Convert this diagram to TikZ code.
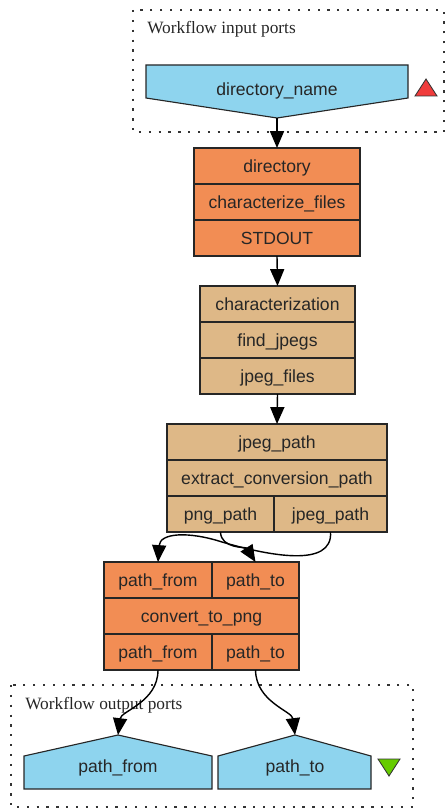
\documentclass[tikz,border=0pt]{standalone}
\usepackage{fontspec}
\setmainfont{Liberation Serif}
\setsansfont{Liberation Sans}
\usetikzlibrary{arrows.meta,positioning}
\definecolor{portblue}{HTML}{8ED4EE}
\definecolor{procorange}{HTML}{F28D54}
\definecolor{proctan}{HTML}{DEB887}
\definecolor{markred}{HTML}{F03C3C}
\definecolor{markgreen}{HTML}{66CC00}

\begin{document}
\begin{tikzpicture}[
    x=0.025cm, y=-0.025cm,
    cell/.style={rectangle, draw=black!85, line width=0.8pt, minimum height=0.9cm, inner sep=0pt, outer sep=0pt, text height=9pt, text depth=0pt, font=\sffamily\fontsize{12.5}{15}\selectfont, text=black!85},
    orangecell/.style={cell, fill=procorange},
    tancell/.style={cell, fill=proctan},
    port/.style={draw=black!85, line width=0.8pt, fill=portblue, line join=miter},
    portlabel/.style={font=\sffamily\fontsize{12.5}{15}\selectfont, text=black!85, inner sep=0pt},
    frame/.style={draw=black!80, line width=1pt, dash pattern=on 1.6pt off 5.4pt},
    framelabel/.style={font=\fontsize{12.3}{15}\selectfont, text=black!85, anchor=west, inner sep=0pt},
    marker/.style={draw=black!80, line width=0.6pt, line join=miter},
    arrow/.style={-{Triangle[length=12pt,width=10pt]}, line width=1pt}
]
\useasboundingbox (0,0) rectangle (445,808);

% Workflow input ports
\draw[frame] (133,10) rectangle (444,132);
\node[framelabel] (in-title) at (147,29) {Workflow input ports};
\draw[port] (146,65) -- (408,65) -- (408,98) -- (277,118) -- (146,98) -- cycle;
\node[portlabel] (in-dirname) at (277,91) {directory\_name};
\coordinate (in-dirname-tip) at (277,118);
\draw[marker, fill=markred] (415,96) -- (437,96) -- (426,79) -- cycle;

% characterize_files
\node[orangecell, minimum width=4.15cm] (c1-in) at (277,166) {directory};
\node[orangecell, minimum width=4.15cm, below=0pt of c1-in] (c1-name) {characterize\_files};
\node[orangecell, minimum width=4.15cm, below=0pt of c1-name] (c1-out) {STDOUT};

% find_jpegs
\node[tancell, minimum width=3.875cm] (c2-in) at (277.5,304) {characterization};
\node[tancell, minimum width=3.875cm, below=0pt of c2-in] (c2-name) {find\_jpegs};
\node[tancell, minimum width=3.875cm, below=0pt of c2-name] (c2-out) {jpeg\_files};

% extract_conversion_path
\node[tancell, minimum width=5.5cm] (c3-in) at (277,442) {jpeg\_path};
\node[tancell, minimum width=5.5cm, below=0pt of c3-in] (c3-name) {extract\_conversion\_path};
\node[tancell, minimum width=2.675cm, anchor=north west] (c3-png) at (c3-name.south west) {png\_path};
\node[tancell, minimum width=2.825cm, right=0pt of c3-png] (c3-jpeg) {jpeg\_path};

% convert_to_png
\node[orangecell, minimum width=2.7cm] (c4-from-in) at (158,580) {path\_from};
\node[orangecell, minimum width=2.175cm, right=0pt of c4-from-in] (c4-to-in) {path\_to};
\node[orangecell, minimum width=4.875cm, anchor=north west] (c4-name) at (c4-from-in.south west) {convert\_to\_png};
\node[orangecell, minimum width=2.7cm, anchor=north west] (c4-from-out) at (c4-name.south west) {path\_from};
\node[orangecell, minimum width=2.175cm, right=0pt of c4-from-out] (c4-to-out) {path\_to};

% Workflow output ports
\draw[frame] (11,685) rectangle (413,807);
\node[framelabel] (out-title) at (25,705) {Workflow output ports};
\draw[port] (24,789) -- (24,756) -- (118,735) -- (212,756) -- (212,789) -- cycle;
\node[portlabel] (out-from) at (118,768) {path\_from};
\coordinate (out-from-tip) at (118,735);
\draw[port] (218,789) -- (218,756) -- (295,735) -- (371,756) -- (371,789) -- cycle;
\node[portlabel] (out-to) at (295,768) {path\_to};
\coordinate (out-to-tip) at (295,735);
\draw[marker, fill=markgreen] (378,759) -- (400,759) -- (389,776) -- cycle;

% Links
\draw[arrow] (in-dirname-tip) -- (c1-in.north);
\draw[arrow] (c1-out.south) -- (c2-in.north);
\draw[arrow] (c2-out.south) -- (c3-in.north);
\draw[arrow] (c3-png.south) .. controls (221,549) and (246,547) .. (c4-to-in.north);
\draw[arrow] (c3-jpeg.south) .. controls (333,568) and (270,556) .. (222,542) .. controls (188,531) and (160,533) .. (c4-from-in.north);
\draw[arrow] (c4-from-out.south) .. controls (158,702) and (121,711) .. (out-from-tip);
\draw[arrow] (c4-to-out.south) .. controls (256,702) and (292,711) .. (out-to-tip);

\end{tikzpicture}
\end{document}
